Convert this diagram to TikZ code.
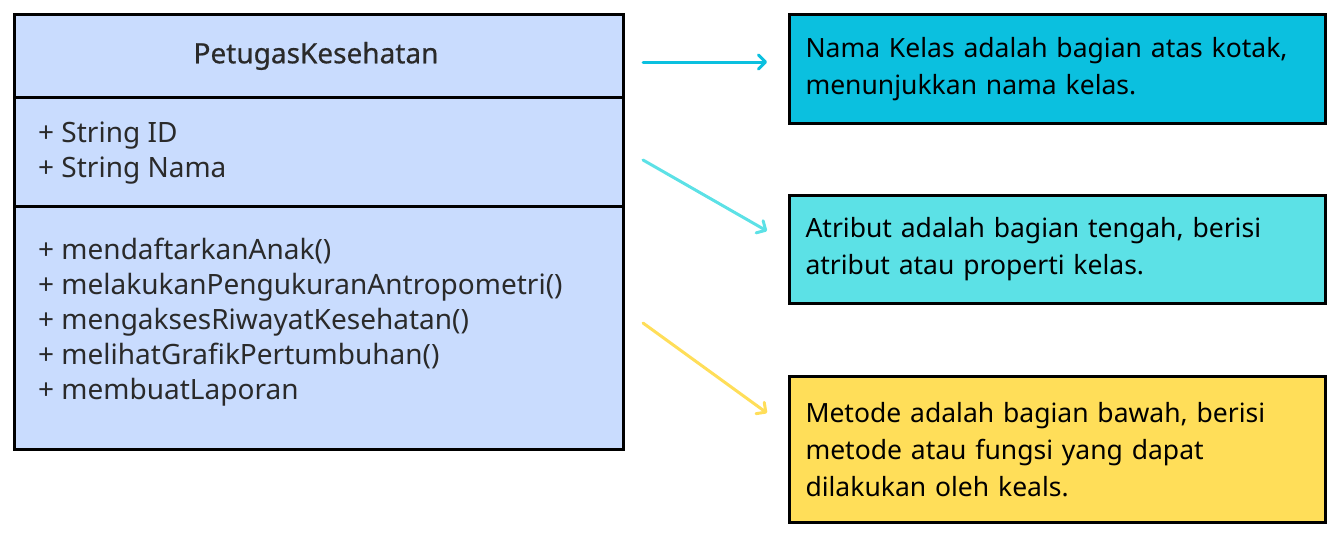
\documentclass[tikz,border=0pt]{standalone}
\usepackage{fontspec}
\setmainfont{Noto Sans}
\newfontfamily\titlefont[FakeBold=0.6]{Noto Sans}
\usetikzlibrary{arrows.meta}
\definecolor{cyanA}{HTML}{0BC0DF}
\definecolor{cyanB}{HTML}{5CE1E6}
\definecolor{yellowC}{HTML}{FFDE59}
\definecolor{classfill}{HTML}{C9DCFE}
\definecolor{classtext}{HTML}{2A2A2A}
\tikzset{
  compart/.style={draw=black, line width=3pt, fill=classfill, anchor=north west,
    minimum width=609pt, inner sep=0pt},
  membertext/.style={anchor=west, align=left, inner sep=0pt, text=classtext,
    font=\fontsize{28}{35}\selectfont},
  notebox/.style={draw=black, line width=3pt, anchor=north west, align=left,
    text width=504pt, inner xsep=16pt, inner ysep=0pt,
    font=\fontsize{26.5}{37}\selectfont},
  pointer/.style={line width=3pt, line cap=round,
    -{Straight Barb[length=7pt,width=14pt,line cap=round,line join=round]}},
}
\begin{document}
\begin{tikzpicture}[x=1pt,y=-1pt]
\useasboundingbox (0,0) rectangle (1340,538);
% class box
\node[compart, minimum height=83pt] (cname) at (13,13) {};
\node[compart, minimum height=109pt] (cattr) at (13,96) {};
\node[compart, minimum height=243pt] (cmeth) at (13,205) {};
\node[text=classtext, font=\titlefont\fontsize{28}{30}\selectfont, inner sep=0pt] (ctitle) at (316,56) {PetugasKesehatan};
\node[membertext] (attrs) at (38,153) {+ String ID\\+ String Nama};
\node[membertext] (meths) at (38,322.5) {+ mendaftarkanAnak()\\+ melakukanPengukuranAntropometri()\\+ mengaksesRiwayatKesehatan()\\+ melihatGrafikPertumbuhan()\\+ membuatLaporan};
% note boxes
\node[notebox, fill=cyanA, minimum height=109pt] (n1) at (788,13) {Nama Kelas adalah bagian atas kotak,\\menunjukkan nama kelas.};
\node[notebox, fill=cyanB, minimum height=108pt] (n2) at (788,194) {Atribut adalah bagian tengah, berisi\\atribut atau properti kelas.};
\node[notebox, fill=yellowC, minimum height=146pt] (n3) at (788,375) {Metode adalah bagian bawah, berisi\\metode atau fungsi yang dapat\\dilakukan oleh keals.};
% pointers
\coordinate (s1) at (643,62);
\coordinate (e1) at (767,62);
\coordinate (s2) at (643,160);
\coordinate (e2) at (767,231);
\coordinate (s3) at (643,323);
\coordinate (e3) at (767,413);
\draw[pointer, cyanA] (s1) -- (e1);
\draw[pointer, cyanB] (s2) -- (e2);
\draw[pointer, yellowC] (s3) -- (e3);
\end{tikzpicture}
\end{document}
